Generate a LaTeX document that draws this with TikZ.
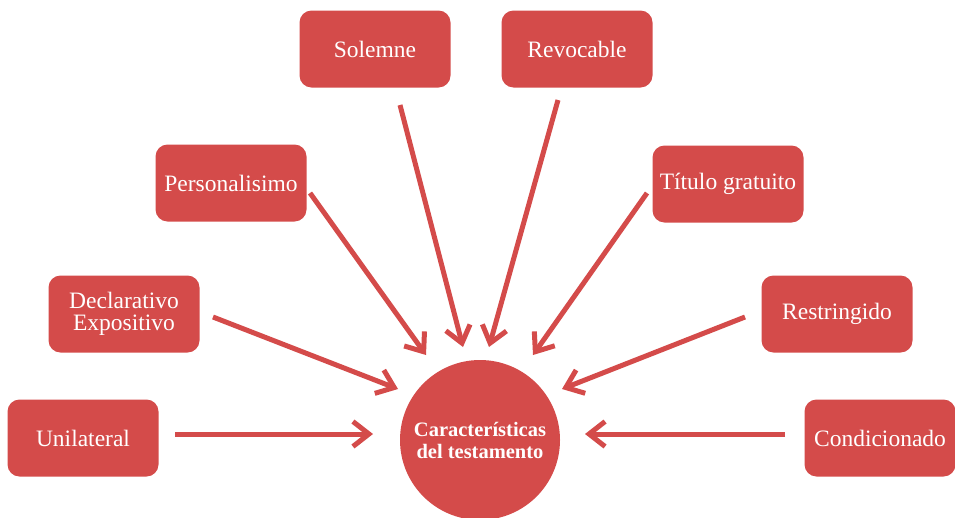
\documentclass[tikz,border=0pt]{standalone}
\usepackage{fontspec}
\setmainfont{Liberation Serif}
\usetikzlibrary{arrows.meta}
\definecolor{boxred}{RGB}{212,75,74}
\begin{document}
\begin{tikzpicture}[x=1pt,y=-1pt,
  box/.style={draw=none,fill=boxred,rounded corners=12pt,minimum width=151pt,minimum height=77pt,
    text=white,font=\fontsize{23.5}{22}\selectfont,align=center,inner sep=0pt},
  hub/.style={circle,fill=boxred,minimum size=160pt,inner sep=0pt,text=white,
    font=\bfseries\fontsize{20.5}{22}\selectfont,align=center},
  conn/.style={draw=boxred,line width=5pt,-{Straight Barb[length=16pt,width=25pt,line width=5pt]}}]
\useasboundingbox (0,0) rectangle (955,517);
\node[hub] (c) at (480,440) {Características\\del testamento};
\node[box] (sol) at (375,49) {Solemne};
\node[box] (rev) at (577,49) {Revocable};
\node[box] (per) at (231,183) {Personalisimo};
\node[box] (tit) at (728,184) {Título gratuito};
\node[box] (dec) at (124,314) {Declarativo\\Expositivo};
\node[box] (res) at (837,314) {Restringido};
\node[box] (uni) at (83,438) {Unilateral};
\node[box] (con) at (880,438) {Condicionado};
\coordinate (uni1) at (175,434); \coordinate (uni2) at (373,434);
\coordinate (con1) at (785,434); \coordinate (con2) at (585,434);
\coordinate (dec1) at (213,317); \coordinate (dec2) at (398,389);
\coordinate (res1) at (745,317); \coordinate (res2) at (562,389);
\coordinate (per1) at (310,193); \coordinate (per2) at (426,355);
\coordinate (tit1) at (647,193); \coordinate (tit2) at (533,355);
\coordinate (sol1) at (400,105); \coordinate (sol2) at (463,347);
\coordinate (rev1) at (558,100); \coordinate (rev2) at (489,347);
\foreach \n in {uni,con,dec,res,per,tit,sol,rev}
  \draw[conn] (\n1) -- (\n2);
\end{tikzpicture}
\end{document}
